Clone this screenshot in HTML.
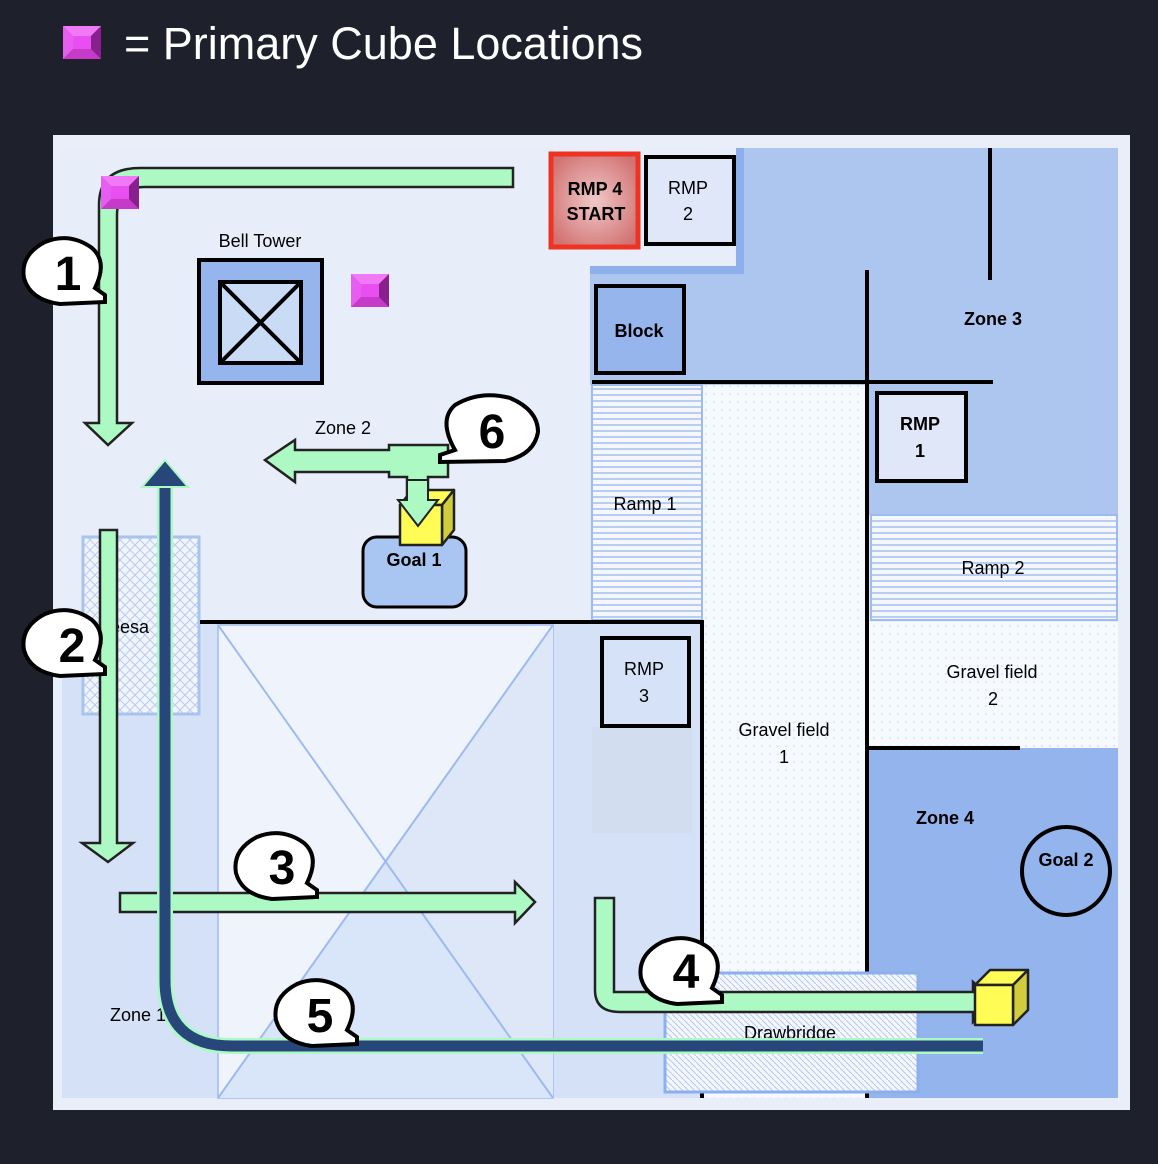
<!DOCTYPE html>
<html><head><meta charset="utf-8"><style>
body{margin:0;background:#1e212b;}
svg{display:block;font-family:"Liberation Sans",sans-serif;}
</style></head><body>
<svg width="1158" height="1164" viewBox="0 0 1158 1164" xmlns="http://www.w3.org/2000/svg">
<defs>
<pattern id="dots" width="8" height="8" patternUnits="userSpaceOnUse"><rect width="8" height="8" fill="#f6f9fe"/><circle cx="2" cy="2" r="0.8" fill="#c6d4ee"/></pattern>
<pattern id="hstripe" width="6" height="6" patternUnits="userSpaceOnUse"><rect width="6" height="6" fill="#f4f7fd"/><rect y="4" width="6" height="2" fill="#b9cdf2"/></pattern>
<pattern id="diag" width="6" height="6" patternUnits="userSpaceOnUse"><rect width="6" height="6" fill="#f4f7fd"/><path d="M0 0L6 6" stroke="#b5c8ee" stroke-width="1"/></pattern>
<pattern id="cross" width="10" height="10" patternUnits="userSpaceOnUse"><rect width="10" height="10" fill="#f1f5fd"/><path d="M0 0L10 10M10 0L0 10" stroke="#b9cbee" stroke-width="1"/></pattern>
<radialGradient id="red" cx="50%" cy="50%" r="60%"><stop offset="0" stop-color="#f0c8c8"/><stop offset="1" stop-color="#d27272"/></radialGradient>
<g id="cube"><rect width="38" height="33" fill="#c53bc8"/><polygon points="0,0 38,0 28,10 10,10" fill="#f07af5"/><polygon points="0,0 10,10 10,23 0,33" fill="#e65ef0"/><polygon points="38,0 28,10 28,23 38,33" fill="#8a2090"/><rect x="10" y="10" width="18" height="13" fill="#e84ef0"/></g>
</defs>
<use href="#cube" x="63" y="26"/>
<text x="124" y="59" font-size="45" fill="#fff">= Primary Cube Locations</text>
<rect x="53" y="135" width="1077" height="975" fill="#e9eef9"/>
<rect x="62" y="148" width="1056" height="950" fill="#e7edf9"/>
<rect x="62" y="622" width="493" height="476" fill="#d4e1f7"/>
<rect x="218" y="625" width="335" height="473" fill="#eef3fc" stroke="#9dbbee" stroke-width="1.5"/>
<polygon points="385,860 218,1098 553,1098" fill="#d9e5f8"/>
<polygon points="553,625 385,860 553,1098" fill="#dde7f8"/>
<path d="M218 625L553 1098M553 625L218 1098" stroke="#9dbbee" stroke-width="2"/>
<rect x="555" y="622" width="148" height="476" fill="#d4e1f7"/>
<rect x="592" y="727" width="100" height="106" fill="#d2def0"/>
<path d="M740 148H1118V515H869V385H590V270H740Z" fill="#adc6f0"/>
<path d="M740 148V270H590" fill="none" stroke="#8db0ec" stroke-width="8"/>
<rect x="592" y="385" width="110" height="235" fill="url(#hstripe)" stroke="#9dbbee" stroke-width="2"/>
<rect x="703" y="385" width="163" height="713" fill="url(#dots)"/>
<rect x="871" y="515" width="246" height="105" fill="url(#hstripe)" stroke="#9dbbee" stroke-width="2"/>
<rect x="869" y="622" width="249" height="126" fill="url(#dots)"/>
<rect x="869" y="748" width="249" height="350" fill="#93b4ec"/>
<rect x="83" y="537" width="116" height="177" fill="url(#cross)" stroke="#a9c3ef" stroke-width="3"/>
<g stroke="#000" stroke-width="4" fill="none">
<path d="M867 270V1098M592 382H993M990 148V280M200 622H702V1098M867 748H1020"/>
</g>
<rect x="665" y="973" width="253" height="119" fill="url(#diag)" stroke="#8db0ec" stroke-width="3"/>
<rect x="555" y="622" width="6" height="0" fill="none"/>
<rect x="551" y="154" width="87" height="93" fill="url(#red)" stroke="#ee3322" stroke-width="5"/>
<rect x="646" y="157" width="88" height="87" fill="#dfe7f8" stroke="#000" stroke-width="4"/>
<rect x="596" y="286" width="88" height="87" fill="#95b5ec" stroke="#000" stroke-width="4"/>
<rect x="877" y="393" width="89" height="88" fill="#dfe7f8" stroke="#000" stroke-width="4"/>
<rect x="602" y="638" width="87" height="88" fill="#d6e2f7" stroke="#000" stroke-width="4"/>
<rect x="199" y="260" width="123" height="123" fill="#95b5ec" stroke="#000" stroke-width="4"/>
<rect x="220" y="282" width="81" height="81" fill="#c9dbf5" stroke="#000" stroke-width="4"/>
<path d="M220 282L301 363M301 282L220 363" stroke="#000" stroke-width="4"/>
<rect x="363" y="537" width="103" height="70" rx="14" fill="#a9c6f2" stroke="#000" stroke-width="3"/>
<circle cx="1066" cy="871" r="44" fill="#93b4ec" stroke="#000" stroke-width="4"/>
<g font-size="18" fill="#000" text-anchor="middle">
<text x="260" y="247">Bell Tower</text>
<text x="343" y="434">Zone 2</text>
<text x="645" y="510">Ramp 1</text>
<text x="993" y="574">Ramp 2</text>
<text x="992" y="678">Gravel field</text><text x="993" y="705">2</text>
<text x="784" y="736">Gravel field</text><text x="784" y="763">1</text>
<text x="644" y="675">RMP</text><text x="644" y="702">3</text>
<text x="688" y="194">RMP</text><text x="688" y="220">2</text>
<text x="138" y="1021">Zone 1</text>
<text x="790" y="1039">Drawbridge</text>
</g>
<text x="110" y="633" font-size="18" fill="#000">eesa</text>
<g font-size="18" font-weight="bold" fill="#000" text-anchor="middle">
<text x="595" y="195">RMP 4</text><text x="596" y="220">START</text>
<text x="639" y="337">Block</text>
<text x="993" y="325">Zone 3</text>
<text x="920" y="430">RMP</text><text x="920" y="457">1</text>
<text x="414" y="566">Goal 1</text>
<text x="945" y="824">Zone 4</text>
<text x="1066" y="866">Goal 2</text>
</g>
<g fill="#adf9c4" stroke="#222" stroke-width="2.5" stroke-linejoin="miter">
<path d="M513 168V187H145Q117 187 117 215V423H132L108 445L85 423H99V205Q99 168 140 168Z"/>
<path d="M100 530H117V843H133L108 862L82 843H100Z"/>
<path d="M120 893H515V882L535 902L515 923V912H120Z"/>
<path d="M595 898H614V992H973V982L995 1002L973 1022V1012H620Q595 1012 595 990Z"/>
</g>
<use href="#cube" x="101" y="176"/>
<use href="#cube" x="351" y="274"/>
<path d="M983 1046H232Q165 1046 165 980V480" fill="none" stroke="#adf9c4" stroke-width="16"/>
<path d="M983 1046H232Q165 1046 165 980V480" fill="none" stroke="#27467a" stroke-width="11"/>
<polygon points="165,460 188,487 142,487" fill="#27467a" stroke="#adf9c4" stroke-width="2"/>
<g fill="#adf9c4" stroke="#222" stroke-width="2.5">
<path d="M389 445H448V477H428V500H407V477H389V472H295V482L265 460L295 440V450H389Z"/>
</g>
<g stroke="#222" stroke-width="2.5" stroke-linejoin="round">
<polygon points="400,505 412,490 454,490 442,505" fill="#fffc55"/>
<polygon points="442,505 454,490 454,530 442,545" fill="#d0cc3c"/>
<rect x="400" y="505" width="42" height="40" fill="#fffc55"/>
<polygon points="975,985 990,970 1028,970 1013,985" fill="#fffc55"/>
<polygon points="1013,985 1028,970 1028,1010 1013,1025" fill="#d0cc3c"/>
<rect x="975" y="985" width="38" height="40" fill="#fffc55"/>
</g>
<path d="M407 500V480H428V500H438L418 526L398 500Z" fill="#adf9c4" stroke="#222" stroke-width="2"/>
<g fill="#fff" stroke="#000" stroke-width="4">
<path d="M95 288 Q108 262 92 248 Q70 232 45 242 Q20 255 24 278 Q30 300 60 304 L105 302 L105 295Z"/>
<path d="M95 660 Q108 634 92 620 Q70 604 45 614 Q20 627 24 650 Q30 672 60 676 L105 674 L105 667Z"/>
<path d="M307 883 Q320 857 304 843 Q282 827 257 837 Q232 850 236 873 Q242 895 272 899 L317 897 L317 890Z"/>
<path d="M712 988 Q725 962 709 948 Q687 932 662 942 Q637 955 641 978 Q647 1000 677 1004 L722 1002 L722 995Z"/>
<path d="M347 1030 Q360 1004 344 990 Q322 974 297 984 Q272 997 276 1020 Q282 1042 312 1046 L357 1044 L357 1037Z"/>
<path d="M455 450 Q438 420 455 405 Q480 390 510 398 Q538 410 538 432 Q534 455 505 461 L440 462 L440 455Z"/>
</g>
<g font-size="48" font-weight="bold" fill="#000" text-anchor="middle">
<text x="68" y="290">1</text>
<text x="72" y="662">2</text>
<text x="282" y="884">3</text>
<text x="686" y="988">4</text>
<text x="320" y="1032">5</text>
<text x="492" y="448">6</text>
</g>
</svg>
</body></html>
